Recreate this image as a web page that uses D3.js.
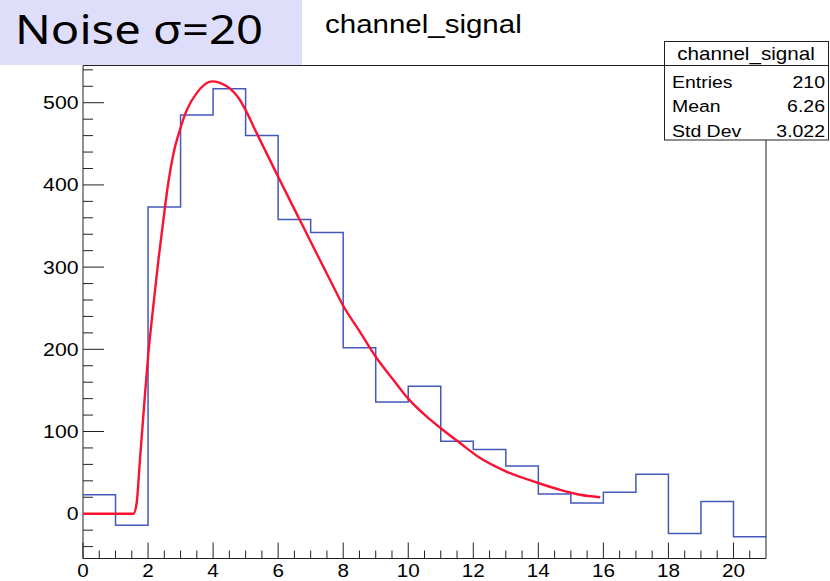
<!DOCTYPE html>
<html>
<head>
<meta charset="utf-8">
<script src="https://cdn.jsdelivr.net/npm/d3@7"></script>
<style>
    body { margin: 0; background: #fff; }
    #chart svg { display: block; }
</style>
</head>
<body>
<div id="chart"></div>
<script>
// histogram bin contents, bins of width 1 from 0 to 21
const binEdges = d3.range(0, 22);
const binValues = [23, -14, 373, 485, 517, 460, 358, 342, 202, 136, 155, 88, 78, 58, 24, 13, 26, 48, -24, 15, -28];

// fit curve
const fitX = [0, 1.55, 1.65, 1.75, 1.91, 2.01, 2.16, 2.32, 2.47, 2.62, 2.78, 2.98, 3.19, 3.5, 3.96, 4.42, 4.83, 5.0, 5.34, 6.0, 6.67, 7.19, 7.6, 8.0, 8.52, 9.0, 9.54, 10.0, 10.57, 11.0, 11.59, 12.2, 13.03, 13.95, 14.67, 15.28, 15.9];
const fitY = [0, 0, 13, 65, 147, 195, 252, 309, 357, 402, 438, 467, 491, 512, 526, 520, 503, 491, 463, 410, 357, 316, 284, 253, 221, 191, 163, 140, 118, 104, 86, 68, 51, 38, 29, 23, 20];

const xMajorTicks = d3.range(0, 21, 2);
const xMinorTicks = d3.range(0, 21, 0.5);
const yMajorTicks = [0, 100, 200, 300, 400, 500];
const yMinorTicks = d3.range(-40, 541, 20);

const histName = "channel_signal";
const statsLabels = ["Entries", "Mean", "Std Dev"];
const statsValues = ["210", "6.26", "3.022"];
const noiseLabel = "Noise σ=20";

// the source picture is stretched sideways, so text is too
const SX = 1.18;
const ROOT_FONT = "'Liberation Sans', Arial, Helvetica, sans-serif";

class HistChart {
    constructor(selector) {
        this.selector = selector;
    }

    initialize() {
        this.setup_bounds();
        this.setup_svg();
        this.setup_scales();
        this.draw_axes();
        this.draw_histogram();
        this.draw_fit();
        this.draw_frame();
        this.draw_title();
        this.draw_stats();
        this.draw_noise_label();
    }

    setup_bounds() {
        this.width = 830;
        this.height = 581;
        this.frame = { left: 83, right: 766, top: 65.5, bottom: 558.5 };
    }

    setup_svg() {
        this.svg = d3.select(this.selector)
            .append("svg")
            .attr("width", this.width)
            .attr("height", this.height);
    }

    setup_scales() {
        this.x = d3.scaleLinear()
            .domain([0, 21])
            .range([this.frame.left, this.frame.right]);
        this.y = d3.scaleLinear()
            .domain([-54.5, 545.3])
            .range([this.frame.bottom, this.frame.top]);
    }

    // text that is stretched sideways around its anchor point
    add_text(g, x, y, str, size, anchor, family) {
        return g.append("text")
            .attr("transform", "translate(" + x + "," + y + ") scale(" + SX + ",1)")
            .attr("text-anchor", anchor || "start")
            .attr("font-family", family || ROOT_FONT)
            .attr("font-size", size)
            .attr("fill", "#000")
            .text(str);
    }

    draw_axes() {
        const f = this.frame;
        const axisG = this.svg.append("g").attr("stroke", "#222").attr("stroke-width", 1);

        // x axis ticks
        axisG.selectAll(".xminor")
            .data(xMinorTicks)
            .enter().append("line")
            .attr("x1", d => this.x(d)).attr("x2", d => this.x(d))
            .attr("y1", f.bottom)
            .attr("y2", d => f.bottom - (d % 2 === 0 ? 16 : 8));

        // y axis ticks
        axisG.selectAll(".yminor")
            .data(yMinorTicks)
            .enter().append("line")
            .attr("y1", d => this.y(d)).attr("y2", d => this.y(d))
            .attr("x1", f.left)
            .attr("x2", d => f.left + (d % 100 === 0 ? 21 : 10));

        axisG.append("line")
            .attr("x1", f.left).attr("x2", f.right)
            .attr("y1", f.bottom).attr("y2", f.bottom);
        axisG.append("line")
            .attr("x1", f.left).attr("x2", f.left)
            .attr("y1", f.top).attr("y2", f.bottom);

        const labels = this.svg.append("g");
        xMajorTicks.forEach(t => {
            this.add_text(labels, this.x(t), 577, t, 17.5, "middle");
        });
        yMajorTicks.forEach(t => {
            this.add_text(labels, 78.5, this.y(t) + 6.5, t, 18, "end");
        });
    }

    draw_histogram() {
        const pts = binValues.map((v, i) => [binEdges[i], v]);
        pts.push([binEdges[binEdges.length - 1], binValues[binValues.length - 1]]);

        const line = d3.line()
            .x(d => this.x(d[0]))
            .y(d => this.y(d[1]))
            .curve(d3.curveStepAfter);

        this.svg.append("path")
            .datum(pts)
            .attr("d", line)
            .attr("fill", "none")
            .attr("stroke", "#4458bd")
            .attr("stroke-width", 1.5);
    }

    draw_fit() {
        const pts = fitX.map((v, i) => [v, fitY[i]]);
        const line = d3.line()
            .x(d => this.x(d[0]))
            .y(d => this.y(d[1]))
            .curve(d3.curveMonotoneX);

        this.svg.append("path")
            .datum(pts)
            .attr("d", line)
            .attr("fill", "none")
            .attr("stroke", "#fb1233")
            .attr("stroke-width", 2.4)
            .attr("stroke-linejoin", "round");
    }

    draw_frame() {
        const f = this.frame;
        this.svg.append("path")
            .attr("d", "M" + f.left + "," + f.top + "H" + f.right + "V" + f.bottom)
            .attr("fill", "none")
            .attr("stroke", "#222")
            .attr("stroke-width", 1);
    }

    draw_title() {
        this.add_text(this.svg, 325, 33, histName, 25, "start");
    }

    draw_stats() {
        const box = { x: 664, y: 41, w: 164, h: 98.5 };
        const g = this.svg.append("g");

        g.append("rect")
            .attr("x", box.x + 0.5).attr("y", box.y + 0.5)
            .attr("width", box.w).attr("height", box.h)
            .attr("fill", "#fff")
            .attr("stroke", "#222");

        g.append("line")
            .attr("x1", box.x).attr("x2", box.x + box.w)
            .attr("y1", 65.5).attr("y2", 65.5)
            .attr("stroke", "#222");

        this.add_text(g, box.x + box.w / 2, 59.5, histName, 17.5, "middle");

        statsLabels.forEach((lab, i) => {
            const by = 88 + i * 24.3;
            this.add_text(g, 672, by, lab, 16.5, "start");
            this.add_text(g, 825, by, statsValues[i], 16.5, "end");
        });
    }

    draw_noise_label() {
        const g = this.svg.append("g");
        g.append("rect")
            .attr("x", 0).attr("y", 0)
            .attr("width", 302).attr("height", 65)
            .attr("fill", "#dedefa");
        this.add_text(g, 15, 43.5, noiseLabel, 40, "start", "'Noto Sans', 'Open Sans', sans-serif");
    }
}

const chart = new HistChart("#chart");
chart.initialize();
</script>
</body>
</html>
